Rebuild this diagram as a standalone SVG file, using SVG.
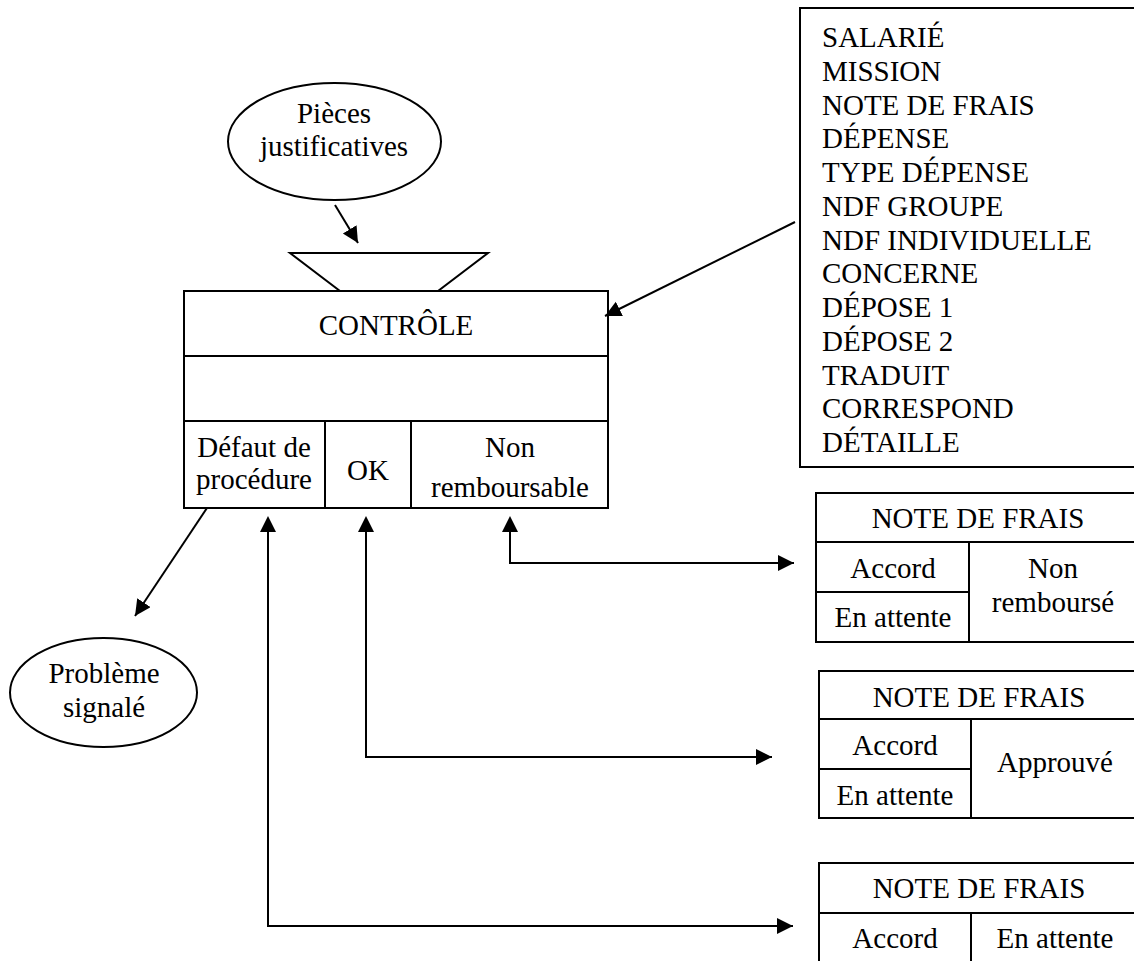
<svg xmlns="http://www.w3.org/2000/svg" width="1134" height="961" viewBox="0 0 1134 961">
<style>
.s{fill:#fff;stroke:#000;stroke-width:2}
.l{fill:none;stroke:#000;stroke-width:2}
text{font-family:"Liberation Serif","Times New Roman",serif;font-size:29px;fill:#000}
.c{text-anchor:middle}
</style>
<defs>
<marker id="ah" markerUnits="userSpaceOnUse" markerWidth="18" markerHeight="18" refX="16" refY="8" orient="auto">
<path d="M0,0 L16,8 L0,16 Z" fill="#000"/>
</marker>
</defs>
<rect width="1134" height="961" fill="#fff"/>
<g id="pieces">
<ellipse class="s" cx="334.5" cy="141.5" rx="106.5" ry="58.5"/>
<text class="c" x="334" y="123">Pièces</text>
<text class="c" x="334" y="156">justificatives</text>
</g>
<g id="controle">
<polygon class="s" points="290,253 488,253 438,291 340,291"/>
<rect class="s" x="184" y="291" width="424" height="217"/>
<line class="l" x1="184" y1="356" x2="608" y2="356"/>
<line class="l" x1="184" y1="421" x2="608" y2="421"/>
<line class="l" x1="325" y1="421" x2="325" y2="508"/>
<line class="l" x1="411" y1="421" x2="411" y2="508"/>
<text class="c" x="396" y="335">CONTRÔLE</text>
<text class="c" x="254" y="457">Défaut de</text>
<text class="c" x="254" y="489">procédure</text>
<text class="c" x="368" y="480">OK</text>
<text class="c" x="510" y="457">Non</text>
<text class="c" x="510" y="497">remboursable</text>
</g>
<g id="liste">
<rect class="s" x="800" y="8" width="345" height="459"/>
<text x="822" y="47">SALARIÉ</text>
<text x="822" y="80.75">MISSION</text>
<text x="822" y="114.5">NOTE DE FRAIS</text>
<text x="822" y="148.25">DÉPENSE</text>
<text x="822" y="182">TYPE DÉPENSE</text>
<text x="822" y="215.75">NDF GROUPE</text>
<text x="822" y="249.5">NDF INDIVIDUELLE</text>
<text x="822" y="283.25">CONCERNE</text>
<text x="822" y="317">DÉPOSE 1</text>
<text x="822" y="350.75">DÉPOSE 2</text>
<text x="822" y="384.5">TRADUIT</text>
<text x="822" y="418.25">CORRESPOND</text>
<text x="822" y="452">DÉTAILLE</text>
</g>
<g id="probleme">
<ellipse class="s" cx="103.5" cy="692.5" rx="93.5" ry="54.5"/>
<text class="c" x="104" y="683">Problème</text>
<text class="c" x="104" y="717">signalé</text>
</g>
<g id="ndf1">
<rect class="s" x="816" y="493" width="330" height="149"/>
<line class="l" x1="816" y1="542" x2="1146" y2="542"/>
<line class="l" x1="816" y1="592" x2="969" y2="592"/>
<line class="l" x1="969" y1="542" x2="969" y2="642"/>
<text class="c" x="978" y="528">NOTE DE FRAIS</text>
<text class="c" x="893" y="578">Accord</text>
<text class="c" x="893" y="627">En attente</text>
<text class="c" x="1053" y="578">Non</text>
<text class="c" x="1053" y="612">remboursé</text>
</g>
<g id="ndf2">
<rect class="s" x="819" y="671" width="330" height="147"/>
<line class="l" x1="819" y1="719" x2="1149" y2="719"/>
<line class="l" x1="819" y1="769" x2="971" y2="769"/>
<line class="l" x1="971" y1="719" x2="971" y2="818"/>
<text class="c" x="979" y="707">NOTE DE FRAIS</text>
<text class="c" x="895" y="755">Accord</text>
<text class="c" x="895" y="805">En attente</text>
<text class="c" x="1055" y="772">Approuvé</text>
</g>
<g id="ndf3">
<rect class="s" x="819" y="863" width="330" height="110"/>
<line class="l" x1="819" y1="913" x2="1149" y2="913"/>
<line class="l" x1="971" y1="913" x2="971" y2="973"/>
<text class="c" x="979" y="898">NOTE DE FRAIS</text>
<text class="c" x="895" y="948">Accord</text>
<text class="c" x="1055" y="948">En attente</text>
</g>
<g id="connectors">
<line class="l" x1="335" y1="205" x2="358" y2="243" marker-end="url(#ah)"/>
<line class="l" x1="795" y1="222" x2="605" y2="316" marker-end="url(#ah)"/>
<line class="l" x1="207" y1="508" x2="135" y2="616" marker-end="url(#ah)"/>
<polyline class="l" points="510,530 510,563 794,563" marker-end="url(#ah)"/>
<polyline class="l" points="366,530 366,757 772,757" marker-end="url(#ah)"/>
<polyline class="l" points="268,530 268,926 793,926" marker-end="url(#ah)"/>
<path d="M510,516 L502,532 L518,532 Z M366,516 L358,532 L374,532 Z M268,516 L260,532 L276,532 Z" fill="#000"/>
</g>
</svg>
